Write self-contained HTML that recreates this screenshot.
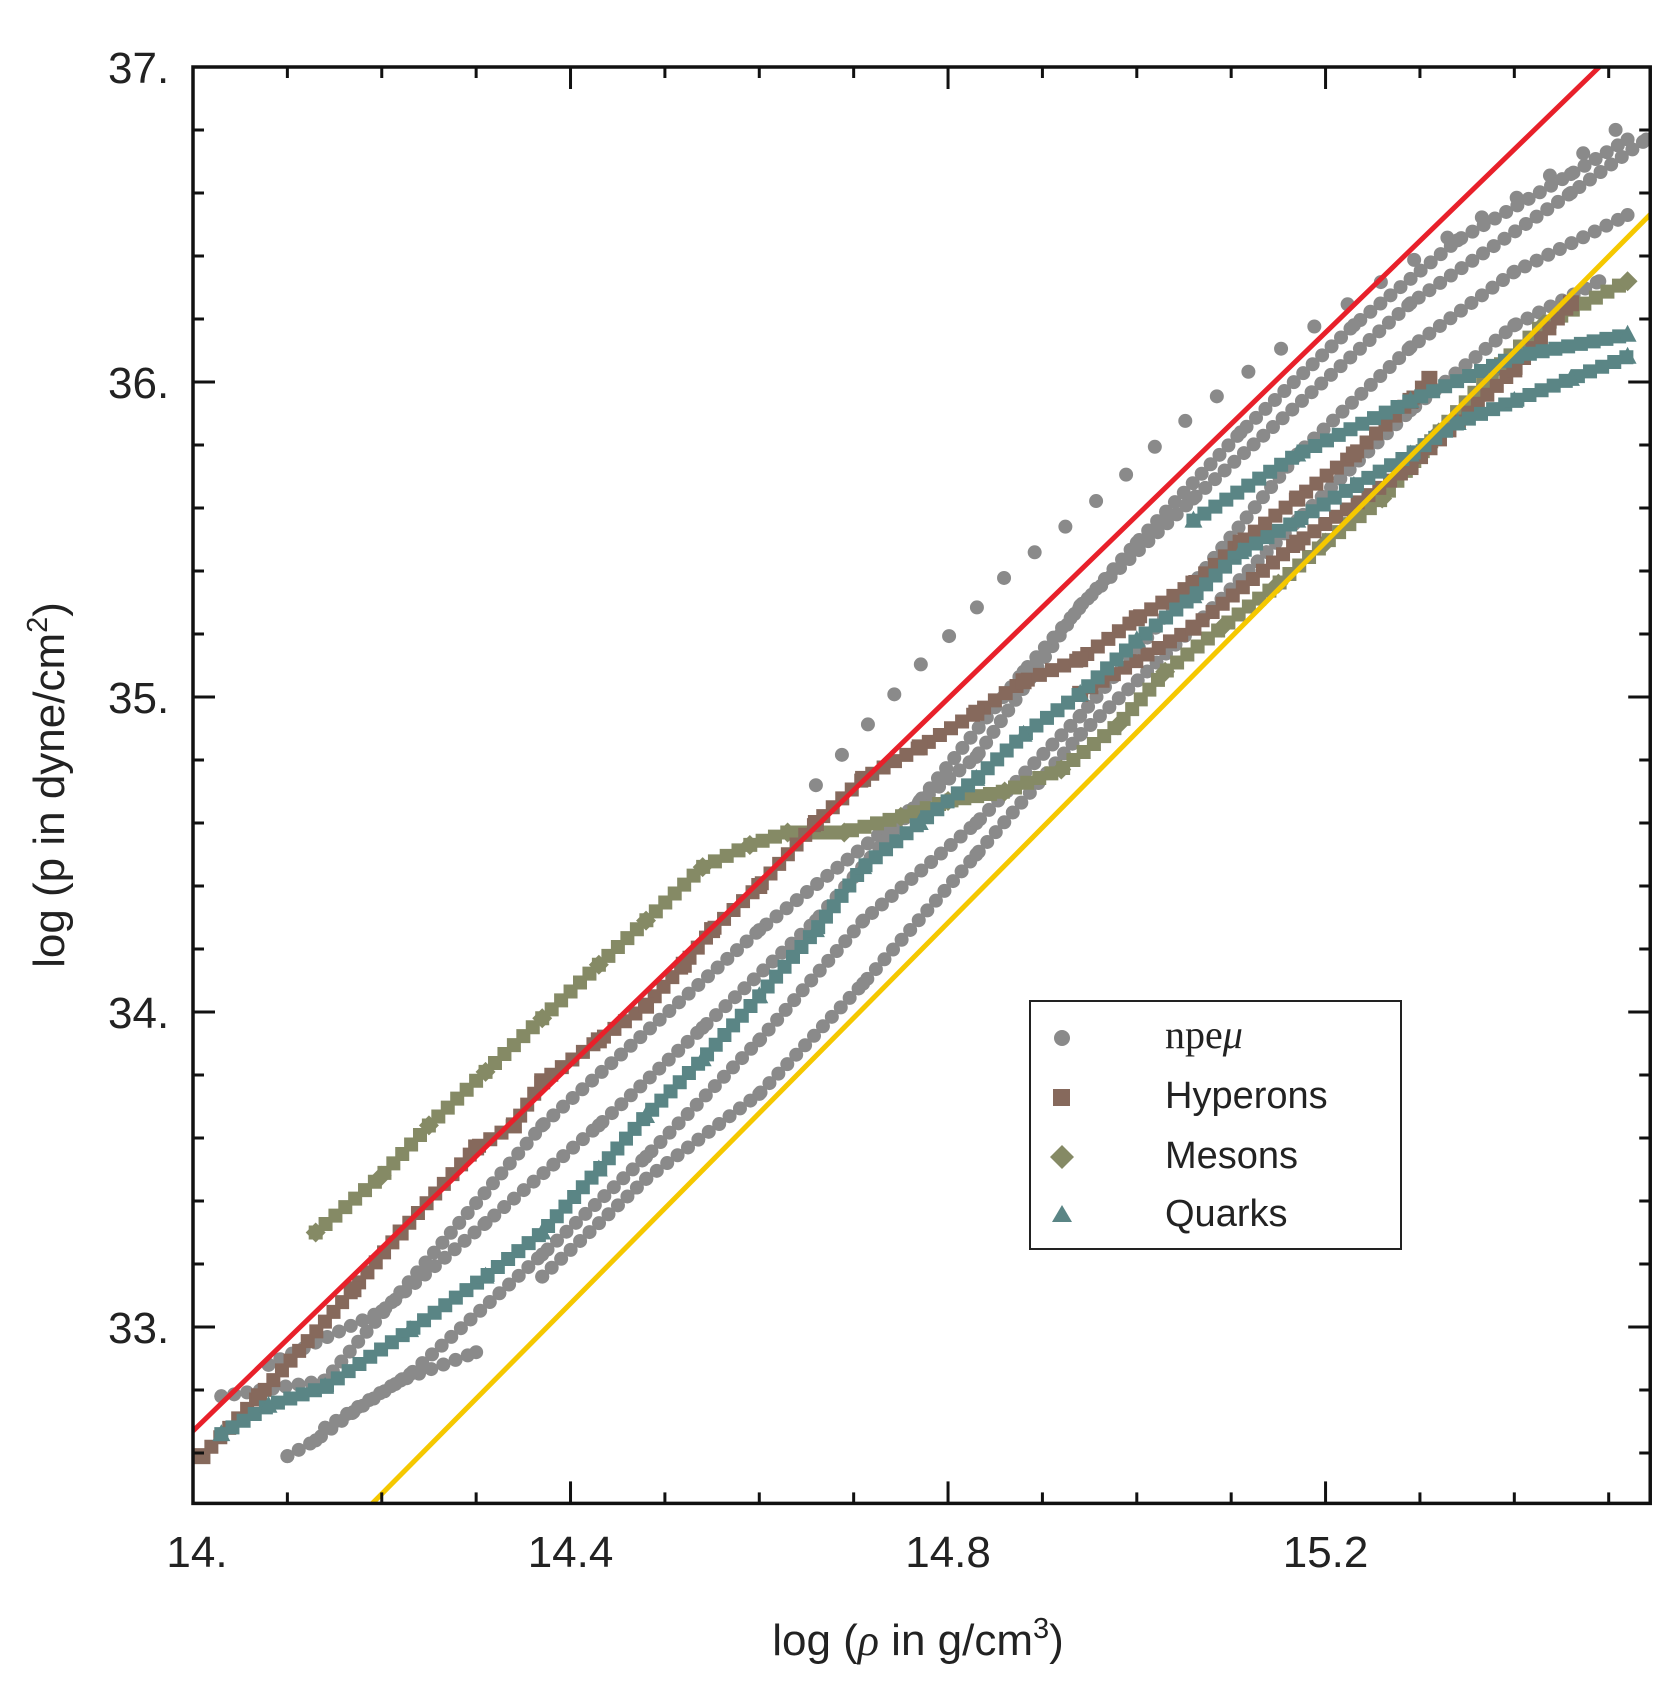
<!DOCTYPE html>
<html><head><meta charset="utf-8"><style>
html,body{margin:0;padding:0;background:#fff;}
svg{display:block;font-family:"Liberation Sans",sans-serif;}
</style></head><body>
<svg id="chart" width="1679" height="1696" viewBox="0 0 1679 1696" xmlns="http://www.w3.org/2000/svg">
<g id="marks"></g>
<g id="axes"></g>
<text x="918" y="1655" font-size="44" text-anchor="middle" fill="#222">log (<tspan font-family="Liberation Serif" font-style="italic">ρ</tspan> in g/cm<tspan font-size="29" dy="-17">3</tspan><tspan dy="17">)</tspan></text>
<text transform="translate(64,785) rotate(-90)" font-size="44" text-anchor="middle" fill="#222">log (p in dyne/cm<tspan font-size="29" dy="-17">2</tspan><tspan dy="17">)</tspan></text>
<g>
<rect x="1030" y="1001" width="371" height="248" fill="#fff" stroke="#222" stroke-width="2"/>
<circle cx="1062" cy="1038" r="8" fill="#8a8a8a"/>
<text x="1165" y="1048" font-size="40" font-family="Liberation Serif" fill="#222">npe<tspan font-style="italic">μ</tspan></text>
<rect x="1053" y="1089" width="17" height="17" fill="#86695c"/>
<text x="1165" y="1108" font-size="38" fill="#222">Hyperons</text>
<polygon points="1062,1145 1074,1157 1062,1169 1050,1157" fill="#858a65"/>
<text x="1165" y="1168" font-size="38" fill="#222">Mesons</text>
<polygon points="1062,1205 1072,1222 1052,1222" fill="#5a8585"/>
<text x="1165" y="1226" font-size="38" fill="#222">Quarks</text>
</g>
</svg>
<script>
const xTicks = [14.0, 14.4, 14.8, 15.2];
const xTickLabels = ["14.", "14.4", "14.8", "15.2"];
const yTicks = [33, 34, 35, 36, 37];
const yTickLabels = ["33.", "34.", "35.", "36.", "37."];
const redLine = [[14.0, 32.67], [15.49, 37.0]];
const yellowLine = [[14.19, 32.44], [15.55, 36.55]];
const npeA = [[14.10,32.59],[14.13,32.64],[14.17,32.73],[14.22,32.83],[14.30,32.92]];
const npeB = [[14.66,34.72],[14.72,34.93],[14.77,35.10],[14.82,35.25],[14.86,35.38],[14.90,35.48],[14.94,35.58],[14.98,35.68],[15.01,35.77],[15.04,35.85],[15.07,35.92],[15.10,35.99],[15.13,36.06],[15.16,36.12],[15.19,36.18],[15.22,36.24],[15.25,36.30],[15.28,36.36],[15.31,36.42],[15.34,36.48],[15.37,36.53],[15.40,36.58],[15.43,36.64],[15.46,36.70],[15.49,36.76],[15.52,36.83]];
const npeC = [[14.03,32.78],[14.14,32.83],[14.37,33.64],[14.60,34.26],[14.83,34.81],[14.94,35.29],[15.06,35.63],[15.29,36.25],[15.46,36.60],[15.54,36.77]];
const npeD = [[14.14,32.68],[14.23,32.85],[14.37,33.23],[14.48,33.54],[14.60,33.91],[14.71,34.29],[14.83,34.60],[14.94,34.94],[15.06,35.36],[15.17,35.77],[15.29,36.11],[15.40,36.35],[15.52,36.53]];
const npeE = [[14.37,33.16],[14.48,33.47],[14.60,33.74],[14.71,34.09],[14.83,34.50],[14.94,34.88],[15.06,35.22],[15.17,35.56],[15.29,35.91],[15.40,36.18],[15.49,36.32]];
const npeF = [[14.08,32.88],[14.20,33.05],[14.31,33.33],[14.43,33.64],[14.54,33.95],[14.66,34.29],[14.77,34.67],[14.88,35.08],[15.00,35.49],[15.11,35.84],[15.23,36.18],[15.34,36.45],[15.46,36.66],[15.52,36.77]];
const hyperonsA = [[14.01,32.59],[14.07,32.78],[14.17,33.12],[14.22,33.30],[14.30,33.57],[14.34,33.64],[14.37,33.78],[14.43,33.91],[14.48,34.02],[14.52,34.15],[14.55,34.26],[14.60,34.40],[14.66,34.60],[14.71,34.74],[14.77,34.84],[14.83,34.95],[14.88,35.05],[14.94,35.12],[15.00,35.25],[15.06,35.36],[15.11,35.49],[15.17,35.63],[15.23,35.77],[15.29,35.94],[15.31,36.01]];
const hyperonsB = [[14.94,35.01],[15.06,35.22],[15.17,35.49],[15.29,35.73],[15.40,36.04],[15.46,36.25]];
const mesons = [[14.13,33.30],[14.20,33.48],[14.25,33.64],[14.31,33.81],[14.37,33.98],[14.43,34.15],[14.48,34.29],[14.54,34.46],[14.59,34.53],[14.63,34.57],[14.69,34.57],[14.75,34.62],[14.80,34.67],[14.86,34.70],[14.92,34.77],[14.98,34.91],[15.03,35.08],[15.09,35.22],[15.15,35.36],[15.20,35.49],[15.26,35.63],[15.32,35.84],[15.38,36.04],[15.43,36.18],[15.52,36.32]];
const quarksA = [[14.03,32.66],[14.08,32.75],[14.14,32.81],[14.23,32.99],[14.31,33.16],[14.37,33.30],[14.43,33.50],[14.48,33.67],[14.54,33.85],[14.60,34.05],[14.66,34.26],[14.71,34.46],[14.77,34.60],[14.83,34.74],[14.88,34.88],[14.94,35.01],[15.00,35.18],[15.06,35.32],[15.11,35.46],[15.17,35.56],[15.23,35.67],[15.29,35.77],[15.34,35.87],[15.40,35.94],[15.46,36.01],[15.52,36.08]];
const quarksB = [[15.06,35.56],[15.17,35.77],[15.29,35.94],[15.40,36.08],[15.52,36.15]];

const X0 = 193, XS = 943.8, Y0 = 67, YS = 315;
const xMin = 14.0, xMax = 15.544, yMax = 37.0, yMin = 32.44;
function sx(v){ return X0 + (v - xMin) * XS; }
function sy(v){ return Y0 + (yMax - v) * YS; }
const NS = "http://www.w3.org/2000/svg";
const marks = document.getElementById('marks');
const axes = document.getElementById('axes');
function mk(tag, attrs, parent){ const e = document.createElementNS(NS, tag); for (const k in attrs) e.setAttribute(k, attrs[k]); parent.appendChild(e); return e; }

const defs = mk('defs', {}, marks);
const cp = mk('clipPath', {id:'plotclip'}, defs);
mk('rect', {x:sx(xMin), y:sy(yMax), width:sx(xMax)-sx(xMin), height:sy(yMin)-sy(yMax)}, cp);
const plot = mk('g', {'clip-path':'url(#plotclip)'}, marks);

function series(data, color, shape, name, gap, showPts){
  const g = mk('g', {}, plot);
  
  
  const pts = data.map(p => sx(p[0]) + ',' + sy(p[1])).join(' ');
  const trail = mk('polyline', {points:pts, fill:'none', stroke:color, 'stroke-width':14, 'stroke-dasharray':'0 ' + gap, 'stroke-linecap': shape==='circle'?'round':'square', 'stroke-linejoin':'round'}, g);
  
  
  if (!showPts) return;
  data.forEach(p => {
    const x = sx(p[0]), y = sy(p[1]);
    let e;
    if (shape === 'circle') e = mk('circle', {cx:x, cy:y, r:7, fill:color}, g);
    else if (shape === 'square') e = mk('rect', {x:x-8, y:y-8, width:16, height:16, fill:color}, g);
    else if (shape === 'diamond') e = mk('polygon', {points:`${x},${y-10} ${x+10},${y} ${x},${y+10} ${x-10},${y}`, fill:color}, g);
    else e = mk('polygon', {points:`${x},${y-10} ${x+9},${y+7} ${x-9},${y+7}`, fill:color}, g);
    
    
  });
}
function drawLine(d, color, name){
  const e = mk('line', {x1:sx(d[0][0]), y1:sy(d[0][1]), x2:sx(d[1][0]), y2:sy(d[1][1]), stroke:color, 'stroke-width':5}, plot);
  
  
}
series(npeA, '#8a8a8a', 'circle', 'npemu-series-1', 13, true);
series(npeB, '#8a8a8a', 'circle', 'npemu-series-2', 40, false);
[npeC, npeD, npeE, npeF].forEach((s,i) => series(s, '#8a8a8a', 'circle', 'npemu-series-' + (i+3), 13, true));
series(mesons, '#858a65', 'diamond', 'mesons-series', 13, true);
series(hyperonsA, '#86695c', 'square', 'hyperons-series-1', 13, true);
series(hyperonsB, '#86695c', 'square', 'hyperons-series-2', 13, true);
series(quarksA, '#5a8585', 'triangle', 'quarks-series-1', 13, true);
series(quarksB, '#5a8585', 'triangle', 'quarks-series-2', 13, true);
drawLine(redLine, '#e8202a', 'red-fit-line');
drawLine(yellowLine, '#f5c800', 'yellow-fit-line');

const fr = mk('rect', {x:sx(xMin), y:sy(yMax), width:sx(xMax)-sx(xMin), height:sy(yMin)-sy(yMax), fill:'none', stroke:'#111', 'stroke-width':3.5}, axes);


const topY = sy(yMax), botY = sy(yMin), lftX = sx(xMin), rgtX = sx(xMax);
for (let i = 1; i <= 15; i++){
  const v = xMin + i*0.1; if (v > xMax) break;
  const major = i % 4 === 0, L = major ? 22 : 11, x = sx(v);
  mk('line', {x1:x, y1:botY, x2:x, y2:botY-L, stroke:'#111', 'stroke-width':3}, axes);
  mk('line', {x1:x, y1:topY, x2:x, y2:topY+L, stroke:'#111', 'stroke-width':3}, axes);
}
for (let i = 0; i <= 25; i++){
  const v = 32.4 + i*0.2; if (v < yMin || v > yMax) continue;
  const major = Math.abs(v - Math.round(v)) < 1e-6, L = major ? 22 : 11, y = sy(v);
  mk('line', {x1:lftX, y1:y, x2:lftX+L, y2:y, stroke:'#111', 'stroke-width':3}, axes);
  mk('line', {x1:rgtX, y1:y, x2:rgtX-L, y2:y, stroke:'#111', 'stroke-width':3}, axes);
}
xTicks.forEach((v,i) => {
  const t = mk('text', {x:sx(v)+ (i===0?4:0), y:1567, 'font-size':44, 'text-anchor':'middle', fill:'#222'}, axes);
  t.textContent = xTickLabels[i];
  
  
});
yTicks.forEach((v,i) => {
  const t = mk('text', {x:108, y:sy(v)+16, 'font-size':44, 'text-anchor':'start', fill:'#222'}, axes);
  t.textContent = yTickLabels[i];
  
  
});
</script>
</body></html>
